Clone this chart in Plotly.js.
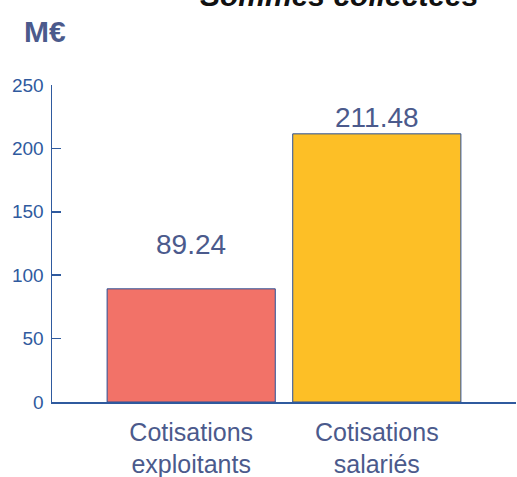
<!DOCTYPE html>
<html>
<head>
<meta charset="utf-8">
<script src="https://cdn.plot.ly/plotly-3.0.1.min.js"></script>
<style>html,body{margin:0;padding:0;background:#fff;}#chart{width:517px;height:477px;}</style>
</head>
<body>
<div id="chart"></div>
<script>
const categories = ["Cotisations<br>exploitants", "Cotisations<br>salariés"];
const values = [89.24, 211.48];
const barColors = ["#f27268", "#fdbf26"];
const yTicks = [0, 50, 100, 150, 200, 250];
const labelShifts = [44, 16];

const fontFam = "Liberation Sans, Arial, Helvetica, sans-serif";
const textCol = "#4b5a8c";
const axisCol = "#2f5a9e";

const trace = {
  type: "bar",
  x: [0, 1],
  y: values,
  marker: {color: barColors, line: {color: "#2a4f96", width: 1}},
  hoverinfo: "none"
};

const annotations = values.map((v, i) => ({
  x: i, y: v, xref: "x", yref: "y",
  text: v.toFixed(2), showarrow: false,
  yanchor: "middle", yshift: labelShifts[i],
  font: {family: fontFam, size: 28, color: textCol}
}));
annotations.push({
  xref: "paper", yref: "paper", x: -0.015, y: 1.17, xanchor: "center", yanchor: "middle",
  text: "<b>M€</b>", showarrow: false,
  font: {family: fontFam, size: 30, color: textCol}
});
annotations.push({
  xref: "paper", yref: "paper", x: 0.618, y: 1.282, xanchor: "center", yanchor: "middle",
  text: "<b><i>Sommes collectées</i></b>", showarrow: false,
  font: {family: fontFam, size: 30, color: "#111111"}
});

const layout = {
  width: 517, height: 477,
  margin: {l: 52, r: 1, t: 85, b: 75},
  paper_bgcolor: "#ffffff", plot_bgcolor: "#ffffff",
  showlegend: false,
  bargap: 0.094,
  xaxis: {
    range: [-0.75, 1.75],
    tickvals: [0, 1], ticktext: categories,
    showgrid: false, zeroline: false,
    showline: true, linecolor: axisCol, linewidth: 1.5,
    ticks: "", fixedrange: true,
    ticklabelstandoff: 7,
    tickfont: {family: fontFam, size: 25, color: textCol}
  },
  yaxis: {
    range: [0, 250],
    tickvals: yTicks,
    showgrid: false, zeroline: false,
    showline: true, linecolor: axisCol, linewidth: 1.5,
    ticks: "inside", ticklen: 9, tickcolor: axisCol, tickwidth: 1.5,
    ticklabelstandoff: 3,
    tickfont: {family: fontFam, size: 19, color: axisCol}
  },
  annotations: annotations
};

Plotly.newPlot("chart", [trace], layout, {displayModeBar: false, staticPlot: true});
</script>
</body>
</html>
